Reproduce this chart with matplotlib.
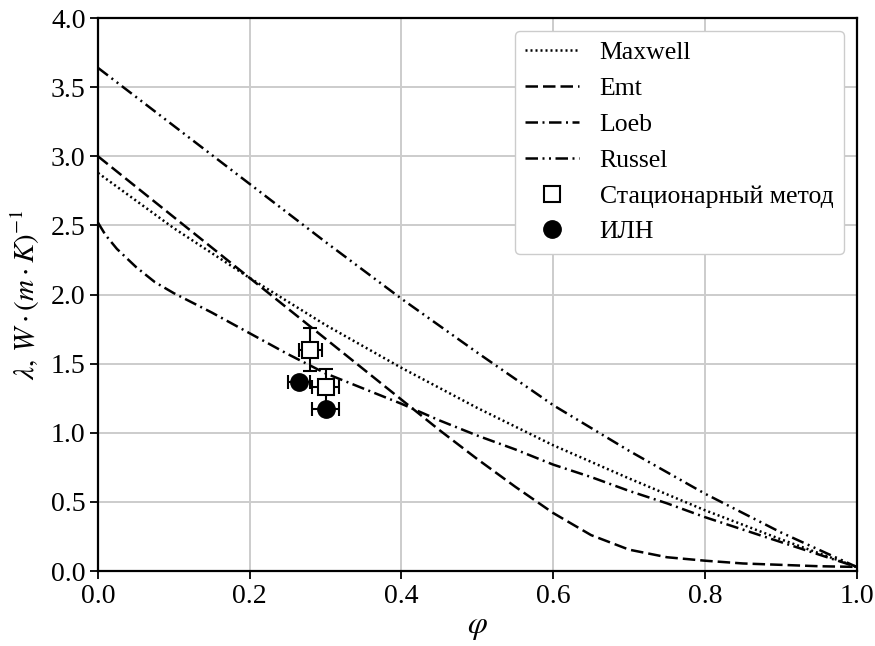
import matplotlib
matplotlib.use("Agg")
import matplotlib.pyplot as plt

plt.rcParams['font.family'] = ['Liberation Serif', 'DejaVu Serif']
plt.rcParams['mathtext.fontset'] = 'stix'

# model curves
phi_max = [0.0, 0.1, 0.2, 0.3, 0.4, 0.5, 0.6, 0.7, 0.8, 0.9, 1.0]
maxwell = [2.88, 2.48, 2.12, 1.78, 1.47, 1.18, 0.91, 0.67, 0.44, 0.23, 0.03]

phi_emt = [0.0, 0.05, 0.1, 0.15, 0.2, 0.25, 0.3, 0.35, 0.4, 0.45, 0.5, 0.55,
           0.6, 0.65, 0.7, 0.75, 0.8, 0.85, 0.9, 0.95, 1.0]
emt = [3.00, 2.78, 2.56, 2.34, 2.12, 1.90, 1.68, 1.46, 1.24, 1.02, 0.81, 0.61,
       0.42, 0.26, 0.155, 0.10, 0.075, 0.055, 0.045, 0.035, 0.03]

phi_loeb = [0.0, 0.01, 0.025, 0.05, 0.075, 0.1, 0.15, 0.2, 0.25, 0.3, 0.35,
            0.4, 0.45, 0.5, 0.55, 0.6, 0.65, 0.7, 0.75, 0.8, 0.85, 0.9, 0.95, 1.0]
loeb = [2.52, 2.43, 2.33, 2.20, 2.09, 2.01, 1.87, 1.72, 1.57, 1.43, 1.32,
        1.21, 1.09, 0.98, 0.88, 0.77, 0.68, 0.58, 0.49, 0.39, 0.30, 0.21, 0.12, 0.03]

phi_rus = [0.0, 0.1, 0.2, 0.3, 0.4, 0.5, 0.6, 0.7, 0.8, 0.9, 1.0]
russel = [3.64, 3.22, 2.80, 2.38, 1.97, 1.58, 1.20, 0.87, 0.56, 0.28, 0.03]

# experimental points
stat_x = [0.28, 0.30]
stat_y = [1.60, 1.33]
stat_xerr = [0.015, 0.018]
stat_yerr = [0.155, 0.13]

iln_x = [0.265, 0.30]
iln_y = [1.37, 1.17]
iln_xerr = [0.015, 0.018]

fig = plt.figure(figsize=(8.75, 6.46), dpi=100)
ax = fig.add_axes([0.112, 0.116, 0.867, 0.856])

lw = 1.8
ax.plot(phi_max, maxwell, color='black', lw=lw, linestyle=(0, (0.8, 1.2)), label='Maxwell')
ax.plot(phi_emt, emt, color='black', lw=lw, linestyle=(0, (5, 2)), label='Emt')
ax.plot(phi_loeb, loeb, color='black', lw=lw, linestyle=(0, (5, 1.8, 0.8, 1.8)), label='Loeb')
ax.plot(phi_rus, russel, color='black', lw=lw,
        linestyle=(0, (5, 1.8, 0.8, 1.8, 0.8, 1.8)), label='Russel')

ax.errorbar(stat_x, stat_y, xerr=stat_xerr, yerr=stat_yerr, fmt='none',
            ecolor='black', elinewidth=1.5, capsize=5, capthick=1.5, zorder=3)
ax.plot(stat_x, stat_y, linestyle='none', marker='s', markersize=12,
        markerfacecolor='white', markeredgecolor='black', markeredgewidth=1.5,
        label='Стационарный метод', zorder=4)
ax.errorbar(iln_x, iln_y, xerr=iln_xerr, fmt='none',
            ecolor='black', elinewidth=1.5, capsize=5, capthick=1.5, zorder=5)
ax.plot(iln_x, iln_y, linestyle='none', marker='o', markersize=12.5,
        color='black', label='ИЛН', zorder=6)

ax.set_xlim(0, 1)
ax.set_ylim(0, 4)
ax.set_xticks([0.0, 0.2, 0.4, 0.6, 0.8, 1.0])
ax.set_yticks([0.0, 0.5, 1.0, 1.5, 2.0, 2.5, 3.0, 3.5, 4.0])
ax.grid(True, color='#cccccc', linewidth=1.4)
ax.set_axisbelow(True)
ax.tick_params(labelsize=20, width=1.3, length=6, pad=3)
for s in ax.spines.values():
    s.set_linewidth(1.6)

ax.set_xlabel(r'$\varphi$', fontsize=23, labelpad=3)
ax.set_ylabel(r'$\lambda,\, W\cdot(m\cdot K)^{-1}$', fontsize=21, labelpad=6)

leg = ax.legend(loc='upper right', fontsize=18.5, handlelength=2.1,
                handletextpad=0.8, labelspacing=0.5, borderpad=0.4,
                framealpha=1, edgecolor='#cccccc', fancybox=True)

fig.savefig('out.png', dpi=100)
